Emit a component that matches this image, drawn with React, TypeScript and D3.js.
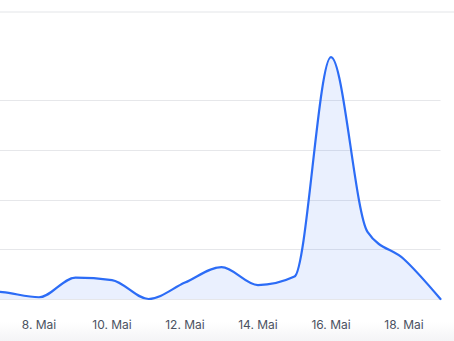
import React from "react";
import * as d3 from "d3";

const days: number[] = [6, 7, 8, 9, 10, 11, 12, 13, 14, 15, 16, 17, 18, 19];
const values: number[] = [1.8, 1.4, 0.35, 4.3, 3.8, 0, 3.3, 6.4, 2.8, 4.5, 48.6, 13.5, 8.0, 0];
const gridValues: number[] = [0, 10, 20, 30, 40];
const tickDays: number[] = [8, 10, 12, 14, 16, 18];
const monthLabel = "Mai";

const W = 454;
const H = 341;

export default function App() {
  const x = d3.scaleLinear().domain([8, 18]).range([39, 404]);
  const y = d3.scaleLinear().domain([0, 40]).range([299, 100]);
  const data = days.map((d, i) => ({ d, v: values[i] }));
  const line = d3
    .line<{ d: number; v: number }>()
    .x((p) => x(p.d))
    .y((p) => y(p.v))
    .curve(d3.curveMonotoneX);
  const area = d3
    .area<{ d: number; v: number }>()
    .x((p) => x(p.d))
    .y0(y(0))
    .y1((p) => y(p.v))
    .curve(d3.curveMonotoneX);
  const right = x(19);
  return (
    <svg
      width={W}
      height={H}
      style={{ position: "absolute", left: 0, top: 0, display: "block" }}
    >
      <defs>
        <linearGradient id="bg" x1="0" y1="0" x2="0" y2="1">
          <stop offset="0" stopColor="#ffffff" />
          <stop offset="1" stopColor="#f4f4f6" />
        </linearGradient>
      </defs>
      <rect x={0} y={0} width={W} height={H} fill="#ffffff" />
      <rect x={0} y={322} width={W} height={19} fill="url(#bg)" />
      <line x1={0} x2={W} y1={12} y2={12} stroke="#e3e5e8" strokeWidth={1} />
      {gridValues.map((g) => (
        <line
          key={g}
          x1={0}
          x2={right}
          y1={Math.round(y(g)) + 0.5}
          y2={Math.round(y(g)) + 0.5}
          stroke="#e6e7ea"
          strokeWidth={1}
        />
      ))}
      <path d={area(data) || ""} fill="#2e6df5" fillOpacity={0.1} />
      <path
        d={line(data) || ""}
        fill="none"
        stroke="#2c6cf6"
        strokeWidth={2.2}
        strokeLinejoin="round"
        strokeLinecap="round"
      />
      {tickDays.map((t) => (
        <text
          key={t}
          x={x(t)}
          y={329}
          textAnchor="middle"
          fontFamily="Inter, 'Noto Sans', sans-serif"
          fontSize={12}
          fill="#4a5261"
        >
          {`${t}. ${monthLabel}`}
        </text>
      ))}
    </svg>
  );
}
